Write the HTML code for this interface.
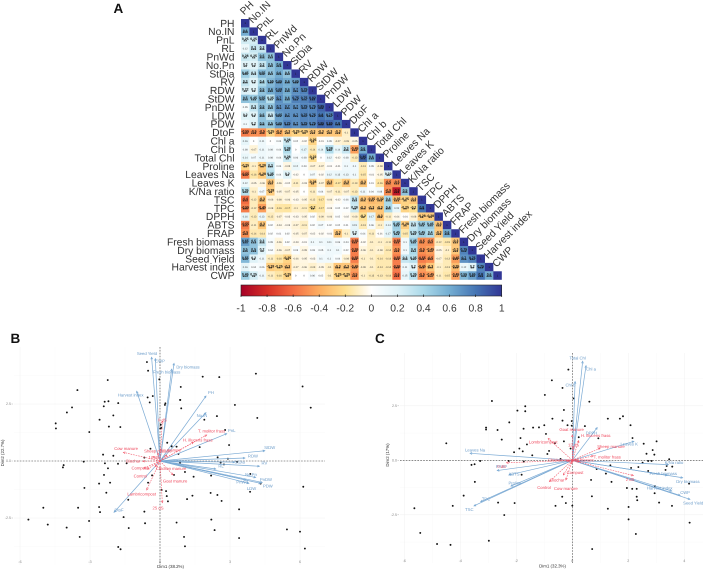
<!DOCTYPE html>
<html lang="en">
<head>
<meta charset="utf-8">
<title>Correlation heatmap and PCA biplots</title>
<style>
html,body{margin:0;padding:0;background:#fff;}
#figure{display:block;width:704px;height:569px;font-family:"Liberation Sans",sans-serif;text-rendering:geometricPrecision;}
</style>
</head>
<body>
<svg id="figure" width="704" height="569" viewBox="0 0 704 569" xmlns="http://www.w3.org/2000/svg">
  <defs>
    <linearGradient id="bar-gradient" x1="0" x2="1" y1="0" y2="0"></linearGradient>
  </defs>
  <rect x="0" y="0" width="704" height="569" fill="#fff"/>
  <text x="113.5" y="13" font-size="13.5" font-weight="bold" fill="#111">A</text>
  <text x="10.5" y="343" font-size="13.5" font-weight="bold" fill="#111">B</text>
  <text x="375" y="343" font-size="13.5" font-weight="bold" fill="#111">C</text>
  <g id="heatmap"></g>
  <g id="colorbar"></g>
  <g id="biplot-b"></g>
  <g id="biplot-c"></g>
</svg>
<script>
const variables = ["PH","No.IN","PnL","RL","PnWd","No.Pn","StDia","RV","RDW","StDW","PnDW","LDW","PDW","DtoF","Chl a","Chl b","Total Chl","Proline","Leaves Na","Leaves K","K/Na ratio","TSC","TPC","DPPH","ABTS","FRAP","Fresh biomass","Dry biomass","Seed Yield","Harvest index","CWP"];
const correlations = [
[1],
[.6,1],
[.25,.25,1],
[.12,.3,.3,1],
[.28,.25,.5,.5,1],
[.2,.2,.3,.5,.6,1],
[.45,.3,.55,.5,.6,.5,1],
[.3,.2,.4,.55,.65,.6,.65,1],
[.22,.2,.5,.6,.68,.6,.7,.75,1],
[.5,.45,.55,.35,.7,.6,.75,.75,.82,1],
[.05,.3,.5,.5,.7,.7,.7,.75,.75,.85,1],
[.2,.2,.5,.3,.65,.7,.7,.75,.75,.8,.75,1],
[.1,.2,.5,.5,.65,.75,.7,.75,.75,.85,.85,.8,1],
[-.55,-.5,-.5,-.25,-.4,-.3,-.25,-.25,-.3,-.3,-.3,-.3,-.1,1],
[.16,0,.11,0,.04,.28,.02,-.02,-.25,-.01,.05,-.07,-.09,-.05,1],
[.08,-.07,.11,.08,.04,.38,0,.17,-.14,.14,.38,.14,.3,-.45,.6,1],
[.14,.07,.11,.08,.04,.28,.06,.08,-.22,0,.12,-.02,.08,-.13,.85,.6,1],
[-.25,-.1,-.28,.3,.04,-.05,.12,.03,-.07,-.07,-.01,-.01,.1,.1,-.13,.05,-.08,1],
[-.55,-.16,-.28,.35,.04,.2,-.02,0,.07,-.02,.12,.13,.13,.1,-.15,-.01,-.05,.22,1],
[.12,-.05,-.06,-.3,-.06,-.02,-.11,-.03,-.28,-.07,-.3,-.17,-.3,-.13,-.3,.01,-.16,-.5,-.5,1],
[.35,-.1,.07,-.28,-.05,-.07,-.05,0,-.11,.04,-.07,-.11,-.07,-.13,.11,.04,.08,-.5,-.9,.5,1],
[-.6,-.12,-.3,-.06,-.08,-.06,-.03,-.05,-.12,-.17,-.06,-.02,.06,.3,-.3,-.35,-.32,.4,-.35,-.25,-.3,1],
[-.55,-.12,-.45,-.08,-.16,-.17,-.1,-.11,-.2,-.17,-.03,.02,.02,.28,-.3,-.3,-.3,.4,.15,-.25,-.2,.8,1],
[.16,-.13,.13,-.12,-.07,-.03,-.03,-.05,.02,-.09,-.06,.02,-.02,-.08,-.2,.17,-.3,-.11,-.04,-.01,-.08,-.28,-.28,1],
[-.55,-.11,-.3,.02,-.04,-.03,-.07,-.11,.02,.07,.02,.02,.01,.15,-.13,.06,-.1,.14,.45,-.28,.3,.45,.45,-.3,1],
[-.5,-.14,-.14,.02,.01,.02,-.05,-.07,-.02,-.02,-.01,-.3,-.1,.2,.04,-.11,-.01,.17,.45,-.15,.35,.45,.4,-.3,.6,1],
[.65,.5,.3,.05,-.06,.02,-.03,-.01,.1,.1,.11,.06,.04,-.55,-.02,-.1,-.1,-.11,-.55,.1,.45,-.5,-.5,-.12,-.15,-.3,1],
[.5,.5,.2,.04,-.06,-.07,.03,-.05,.03,.05,.1,.1,.02,-.55,-.06,-.1,-.08,-.14,-.5,.1,.4,-.5,-.45,-.05,-.1,-.3,.75,1],
[.55,.2,.11,-.11,-.16,-.25,-.06,-.05,-.03,.1,.1,.04,-.08,-.55,-.1,-.1,-.14,-.14,-.55,.3,.35,-.55,-.5,-.07,-.13,-.45,.7,.75,1],
[.16,.04,.06,-.28,-.25,-.3,-.07,-.06,-.09,-.05,-.1,-.3,-.3,-.45,-.09,-.1,-.14,-.14,-.55,.11,.2,-.45,-.3,-.1,-.13,-.35,.12,.2,.75,1],
[.45,.25,.11,-.11,-.16,-.25,0,0,.06,.02,-.1,-.25,-.25,-.5,-.1,-.13,-.13,-.14,-.6,.15,.35,-.5,-.45,-.11,-.15,-.45,.55,.65,.8,.6,1]
];
const colorbarTicks = [-1,-0.8,-0.6,-0.4,-0.2,0,0.2,0.4,0.6,0.8,1];
const paletteColors = ["#A50026","#D73027","#F46D43","#FDAE61","#FEE090","#FFFFFF","#E0F3F8","#ABD9E9","#74ADD1","#4575B4","#313695"];

const bPointsX = [-.56,-.51,-.03,-2.24,-3.54,-.53,-.31,-2.37,-2.21,-1.79,-.44,-2.41,-3.77,-3.99,-2,-2.59,-4.47,-4.46,-2.19,-1.7,-3.03,.03,.06,.01,.23,.21,.86,.31,.49,.71,-.41,-2.44,-2,-.67,.79,-1.43,-3.27,-2.36,-1.8,-4.13,-4.16,-2.23,-2.4,-2.61,-2.14,-.34,-.51,-3.24,-2.3,.07,.26,.29,.34,-1.36,-5,-3.51,-2.61,-2.57,-.67,-1.56,-5.64,-3.04,-4.81,-.64,.71,-1.34,-4,-3.44,-1.79,-1.69,1.83,2.54,4.11,.89,6.11,.87,.91,3.21,6.46,2.44,4.17,1.9,2.79,2.96,1.7,.5,2.47,2.91,2.6,2.74,3.3,.86,1.07,1.44,2.19,.6,3.87,4.31,6.14,3.86,2.17,2.46,1.39,1.16,2.64,3.39,2.2,2.34,5.44,6,1.03,3.39,1.07,6.21];
const bPointsY = [4.34,3.96,3.58,3.55,3.11,2.79,2.85,2.6,2.62,2.54,2.57,2.4,2.35,2.13,2,1.81,1.65,1.43,1.51,1.49,1.27,1.59,1.45,1.43,2.53,2.46,2.68,.8,.66,.63,.54,.28,.23,.15,.31,-.1,-.03,-.1,-.12,-.18,-.28,-.32,-.61,-.99,-.95,-.63,-.95,-1.18,-1.39,-1.27,-1.32,-1.54,-1.77,-1.7,-2.05,-2.05,-2.02,-2.24,-2.22,-2.46,-2.57,-2.63,-2.79,-2.73,-2.7,-2.94,-2.92,-3.33,-3.77,-3.87,3.7,3.68,3.83,3.25,3.27,2.68,2.31,2.46,2.34,1.97,1.89,1.81,1.36,.7,.61,.64,.16,.1,-.07,-.15,-.04,-.07,-.48,-.69,-.64,-.61,-.57,-.99,-1.13,-1.35,-1.4,-1.49,-1.52,-1.67,-1.75,-2.12,-2.57,-3.03,-3,-3.1,-3.33,-3.38,-3.74,-3.84];
const bTraitNames = ["Seed Yield","CWP","Fresh biomass","Dry biomass","Harvest index","PH","No.IN","PnL","StDW","RDW","RV","RL","StDia","PnWd","No.Pn","LDW","PnDW","PDW","DtoF"];
const bTraitX = [-.36,-.2,.5,.6,-1,1.97,1.97,2.86,4.49,3.64,4.26,2.39,3.2,3.69,4.1,3.81,4.38,4.31,-1.97];
const bTraitY = [4.55,4.49,4.03,4.28,3.06,2.85,2.12,1.2,.45,.13,-.23,-.35,-.05,-.83,-.72,-.98,-.94,-.98,-2.25];
const bTreatmentNames = ["Cow manure","Sheep manure","Pig manure","Biochar","10 dS","Compost","Chicken manure","Control","Goat manure","Lambricompost","25 dS","H. illucens frass","T. molitor frass","0 dS"];
const bTreatmentX = [-1.57,-.09,.29,-.74,-.3,-.69,-.21,-.54,.56,-.57,.1,1.43,2,.1];
const bTreatmentY = [.38,.35,.26,-.01,.2,-.32,-.25,-.36,-.61,-1.27,-1.83,.82,1.14,1.75];

const cPointsX = [-2.87,-1.96,-1.68,-1.68,-2.25,-3.08,-3.08,-2.67,-1.74,-1.4,-1.19,-2.52,-1.85,-4.5,-1.62,-1.89,-1.77,-2.08,-1.43,-2.27,-1.73,-3.29,-3.6,-3.49,-3.48,-1.81,-3.88,-4.27,-2.65,-2.06,-2.43,-5.64,-5.43,-4.83,-4.35,-2.98,-.14,-.73,-.35,-.98,.05,.61,-.3,-.71,-.35,-.02,1.27,1.7,1.81,2.08,-1,-.17,-.02,.45,-.94,.23,.93,2.15,-.62,-.3,-.06,-.83,-.89,-.42,2.55,3.01,2.87,2.65,2.93,2.71,2.83,2.51,2.36,3.46,3.37,3.57,3.33,2.1,2.71,1.36,.87,1.2,1.4,.67,1.95,2.14,2.3,2.95,2.94,2.3,2.32,4.17,3.1,3.56,.7,-.36,-.23,0,-.6,1.27,2.01,4.19,2.01,2.27,.71];
const cPointsY = [2.72,2.28,2.48,2.25,1.74,1.5,1.41,1.39,1.45,1.5,1.51,.95,1.02,.78,.73,.54,.41,.37,.23,-.03,-.06,-.03,-.21,-.18,-.99,-.66,-1.62,-2.09,-1.94,-1.96,-2.51,-2.2,-3.33,-3.84,-3.88,-3.69,4.16,3.67,3.32,3,2.84,2.69,2.31,1.91,1.82,1.8,1.91,1.91,2.02,1.61,1.61,1.61,1.59,1.57,1.21,1.06,1.01,1.02,.78,.87,.54,.43,.29,.06,.76,.87,.47,.3,.26,-.03,-.03,-.11,-.31,.05,-.26,-.29,-.44,-.35,-.49,-.23,-.4,-.61,-.99,-.9,-1.27,-1.31,-1.31,-1.18,-1.51,-1.67,-1.83,-1.07,-1.94,-2.09,-1.65,-1.67,-1.96,-2.08,-2.09,-2.22,-2.14,-2.86,-2.71,-3.38,-4.07];
const cTraitNames = ["Total Chl","Chl a","Chl b","DPPH","Leaves K","K/Na ratio","Fresh biomass","Dry biomass","Harvest index","CWP","Seed Yield","Leaves Na","FRAP","ABTS","Proline","TPC","TSC"];
const cTraitX = [.37,.49,.1,.89,2.2,3.43,3.39,3.94,3.55,3.85,4.2,-3.65,-2.68,-2.26,-2.19,-3.27,-3.51];
const cTraitY = [4.54,4.34,3.61,1.5,.87,-.2,-.69,-.8,-1.41,-1.61,-1.79,.32,-.47,-.67,-1.18,-1.9,-2.09];
const cTreatmentNames = ["Goat manure","H. illucens frass","Sheep manure","T. molitor frass","12 dS","Lombricompost","Compost","Biochar","Control","Cow manure","2 dS","0 dS","Pig manure","Chicken manure"];
const cTreatmentX = [0,.23,.99,.75,.04,-.86,-.02,-.32,-.82,-.23,2.18,-2.35,.27,-.2];
const cTreatmentY = [1.16,.9,.55,.2,.63,1,-.14,-.67,-.98,-.9,-.7,-.11,-.06,-.03];

/* label placement relative to each arrow tip (layout only, not data) */
const bTraitLabelNudge = [[-4.7,-3.7],[4.7,2.7],[-5,3],[14,3.7],[-6,3.7],[5,-3.3],[-4,3],[5,-3],[5,-3],[8,-2],[5,-3],[5.3,-3],[5,0],[-4,2],[-4.7,-2.7],[2.7,5.3],[3.7,-3],[7.3,2.7],[5,-2.3]];
const bTreatmentLabelNudge = [[2.7,-3.7],[0,-2],[3.5,-5],[-9.5,0],[1,1],[-4,0],[16,2],[-7,6.7],[2,6],[-5,4.3],[-4.3,5.3],[4.4,-2.3],[5,-4],[0,-1]];
const cTraitLabelNudge = [[-5,-3.3],[5,3.3],[-4.7,3.3],[-5.7,5.7],[-4.7,3],[5.7,-2.3],[-4,-1.7],[5.3,3.7],[-12,-2.7],[5,-2.7],[3.3,4],[5,-3.3],[4.3,-4],[5,-.7],[4,-2.7],[5.3,-2.7],[-4.7,3.7]];
const cTreatmentLabelNudge = [[-.7,-5.3],[17,-5],[11,-1.7],[14,1],[0,-1.7],[-5,3.4],[3.3,9],[-6,5.3],[-5.3,6],[0,8.7],[-3.3,4],[-5,4],[3.3,-1.7],[-3.3,-.7]];

const NS = "http://www.w3.org/2000/svg";
function mk(parent, tag, attrs, txt){
  const el = document.createElementNS(NS, tag);
  for (const k in attrs) el.setAttribute(k, attrs[k]);
  if (txt !== undefined) el.textContent = txt;
  parent.appendChild(el);
  return el;
}
function hexToRgb(h){return [parseInt(h.slice(1,3),16),parseInt(h.slice(3,5),16),parseInt(h.slice(5,7),16)];}
function colorFor(v){
  const c = Math.max(-1,Math.min(1,v));
  const p = (c+1)/2*(paletteColors.length-1);
  const i = Math.min(Math.floor(p),paletteColors.length-2);
  const t = p-i;
  const a = hexToRgb(paletteColors[i]);
  const b = hexToRgb(paletteColors[i+1]);
  return "rgb("+[0,1,2].map(function(k){return Math.round(a[k]+(b[k]-a[k])*t);}).join(",")+")";
}

/* ---------- heatmap ---------- */
const hmLeft = 241, hmTop = 19, hmSize = 260.7/variables.length;
const hmX = function(i){return hmLeft+i*hmSize;};
const hmY = function(i){return hmTop+i*hmSize;};
const heatmap = document.getElementById("heatmap");

correlations.forEach(function(row,r){
  row.forEach(function(v,c){
    const cell = mk(heatmap,"rect",{x:hmX(c).toFixed(2),y:hmY(r).toFixed(2),width:(hmSize+.1).toFixed(2),height:(hmSize+.1).toFixed(2),fill:colorFor(v)});
    
    
    const cx = hmX(c)+hmSize/2, cy = hmY(r)+hmSize/2;
    const label = v===1 ? "1" : String(Math.round(v*100)/100);
    if (v===1){
      const t = mk(heatmap,"text",{x:cx,y:cy+.9,"font-size":2.6,"text-anchor":"middle",fill:"#111"},label);
      
      
    } else if (Math.abs(v)>=.2){
      const t1 = mk(heatmap,"text",{x:cx,y:cy+.2,"font-size":3.4,"font-weight":"bold","text-anchor":"middle",fill:"#111"},label);
      
      
      const t2 = mk(heatmap,"text",{x:cx,y:cy+3,"font-size":4.6,"font-weight":"bold","text-anchor":"middle",fill:"#111"},Math.abs(v)>=.3?"***":"**");
      
      
    } else {
      const t = mk(heatmap,"text",{x:cx,y:cy+.9,"font-size":2.5,"text-anchor":"middle",fill:"#333"},label);
      
      
    }
  });
});
variables.forEach(function(name,i){
  const rowLabel = mk(heatmap,"text",{x:234.5,y:(hmY(i)+hmSize/2+3.6).toFixed(2),"font-size":10.3,"text-anchor":"end",fill:"#333"},name);
  
  
  const px = hmX(i)+3.2, py = hmY(i)-3.6;
  const colLabel = mk(heatmap,"text",{x:px.toFixed(2),y:py.toFixed(2),"font-size":10.3,fill:"#333",transform:"rotate(-45 "+px.toFixed(2)+" "+py.toFixed(2)+")"},name);
  
  
});

/* ---------- colorbar ---------- */
const grad = document.getElementById("bar-gradient");
paletteColors.forEach(function(col,i){
  mk(grad,"stop",{offset:(i/(paletteColors.length-1)),"stop-color":col});
});
const colorbar = document.getElementById("colorbar");
const barLeft = 241, barWidth = 260.7, barTop = 285, barHeight = 11;
const barX = function(v){return barLeft+(v+1)/2*barWidth;};
const barRect = mk(colorbar,"rect",{x:barLeft,y:barTop,width:barWidth,height:barHeight,fill:"url(#bar-gradient)",stroke:"#222","stroke-width":.6});


colorbarTicks.forEach(function(v){
  const tick = mk(colorbar,"line",{x1:barX(v),x2:barX(v),y1:barTop+barHeight-1.5,y2:barTop+barHeight+1,stroke:"#222","stroke-width":.7});
  
  
  const lab = mk(colorbar,"text",{x:barX(v),y:311.5,"font-size":10.3,"text-anchor":"middle",fill:"#333"},String(v));
  
  
});

/* ---------- biplots ---------- */
function drawArrow(g,x1,y1,x2,y2,color,width,dash){
  const attrs = {x1:x1,y1:y1,x2:x2,y2:y2,stroke:color,"stroke-width":width};
  if (dash) attrs["stroke-dasharray"] = dash;
  const shaft = mk(g,"line",attrs);
  
  
  const a = Math.atan2(y2-y1,x2-x1), L = 2.2, S = .45;
  const d = "M"+(x2-L*Math.cos(a-S)).toFixed(2)+" "+(y2-L*Math.sin(a-S)).toFixed(2)+"L"+x2.toFixed(2)+" "+y2.toFixed(2)+"L"+(x2-L*Math.cos(a+S)).toFixed(2)+" "+(y2-L*Math.sin(a+S)).toFixed(2);
  const head = mk(g,"path",{d:d,fill:"none",stroke:color,"stroke-width":width});
  
  
}
function drawBiplot(cfg){
  const g = document.getElementById(cfg.id);
  const sx = cfg.sx, sy = cfg.sy;
  cfg.xMinor.forEach(function(v){
    const l = mk(g,"line",{x1:sx(v),x2:sx(v),y1:cfg.top,y2:cfg.bottom,stroke:"#f7f7f7","stroke-width":.4});
    
    
  });
  cfg.yMinor.forEach(function(v){
    const l = mk(g,"line",{x1:cfg.left,x2:cfg.right,y1:sy(v),y2:sy(v),stroke:"#f7f7f7","stroke-width":.4});
    
    
  });
  cfg.xMajor.forEach(function(v){
    const l = mk(g,"line",{x1:sx(v),x2:sx(v),y1:cfg.top,y2:cfg.bottom,stroke:"#f0f0f0","stroke-width":.5});
    
    
    const t = mk(g,"text",{x:sx(v),y:cfg.xTickY,"font-size":3.6,"text-anchor":"middle",fill:"#888"},String(v));
    
    
  });
  cfg.yMajor.forEach(function(v){
    const l = mk(g,"line",{x1:cfg.left,x2:cfg.right,y1:sy(v),y2:sy(v),stroke:"#f0f0f0","stroke-width":.5});
    
    
    const t = mk(g,"text",{x:cfg.yTickX,y:sy(v)+1.2,"font-size":3.6,"text-anchor":"end",fill:"#888"},v.toFixed(1));
    
    
    const m = mk(g,"line",{x1:cfg.yTickX+.5,x2:cfg.yTickX+2,y1:sy(v),y2:sy(v),stroke:"#999","stroke-width":.4});
    
    
  });
  const hz = mk(g,"line",{x1:cfg.left,x2:cfg.right,y1:sy(0),y2:sy(0),stroke:"#444","stroke-width":.6,"stroke-dasharray":"1.6 1.3"});
  
  
  const vt = mk(g,"line",{x1:sx(0),x2:sx(0),y1:cfg.top,y2:cfg.bottom,stroke:"#444","stroke-width":.6,"stroke-dasharray":"1.6 1.3"});
  
  
  cfg.px.forEach(function(v,i){
    const p = mk(g,"circle",{cx:sx(v).toFixed(2),cy:sy(cfg.py[i]).toFixed(2),r:.95,fill:"#111"});
    
    
  });
  cfg.traitNames.forEach(function(n,i){
    drawArrow(g,sx(0),sy(0),sx(cfg.traitX[i]),sy(cfg.traitY[i]),"#7baad4",.7,null);
  });
  cfg.treatNames.forEach(function(n,i){
    drawArrow(g,sx(0),sy(0),sx(cfg.treatX[i]),sy(cfg.treatY[i]),"#f2596b",.6,"1.6 1");
  });
  cfg.traitNames.forEach(function(n,i){
    const o = cfg.traitNudge[i];
    const t = mk(g,"text",{x:(sx(cfg.traitX[i])+o[0]).toFixed(2),y:(sy(cfg.traitY[i])+o[1]+1.4).toFixed(2),"font-size":4.2,"text-anchor":"middle",fill:"#6a9bc9"},n);
    
    
  });
  cfg.treatNames.forEach(function(n,i){
    const o = cfg.treatNudge[i];
    const t = mk(g,"text",{x:(sx(cfg.treatX[i])+o[0]).toFixed(2),y:(sy(cfg.treatY[i])+o[1]+1.4).toFixed(2),"font-size":4.2,"text-anchor":"middle",fill:"#ef4a5e"},n);
    
    
  });
  const xt = mk(g,"text",{x:cfg.xTitleX,y:cfg.xTitleY,"font-size":4.4,"text-anchor":"middle",fill:"#333"},cfg.xTitle);
  
  
  const yt = mk(g,"text",{x:cfg.yTitleX,y:cfg.yTitleY,"font-size":4.4,"text-anchor":"middle",fill:"#333",transform:"rotate(-90 "+cfg.yTitleX+" "+cfg.yTitleY+")"},cfg.yTitle);
  
  
}
drawBiplot({
  id:"biplot-b",
  sx:function(v){return 160+v*70/3;},
  sy:function(v){return 461-v*22.8;},
  left:14,right:325,top:347,bottom:565,
  xMajor:[-6,-3,0,3,6],xMinor:[-4.5,-1.5,1.5,4.5],
  yMajor:[-2.5,0,2.5],yMinor:[-3.75,-1.25,1.25,3.75],
  xTickY:563,yTickX:11,
  px:bPointsX,py:bPointsY,
  traitNames:bTraitNames,traitX:bTraitX,traitY:bTraitY,traitNudge:bTraitLabelNudge,
  treatNames:bTreatmentNames,treatX:bTreatmentX,treatY:bTreatmentY,treatNudge:bTreatmentLabelNudge,
  xTitle:"Dim1 (38.2%)",xTitleX:170.5,xTitleY:568,
  yTitle:"Dim2 (22.7%)",yTitleX:4,yTitleY:453
});
drawBiplot({
  id:"biplot-c",
  sx:function(v){return 572.3+v*28;},
  sy:function(v){return 460.3-v*21.8;},
  left:400,right:703,top:353,bottom:563,
  xMajor:[-6,-4,-2,0,2,4],xMinor:[-5,-3,-1,1,3],
  yMajor:[-2.5,0,2.5],yMinor:[-3.75,-1.25,1.25,3.75],
  xTickY:562,yTickX:397,
  px:cPointsX,py:cPointsY,
  traitNames:cTraitNames,traitX:cTraitX,traitY:cTraitY,traitNudge:cTraitLabelNudge,
  treatNames:cTreatmentNames,treatX:cTreatmentX,treatY:cTreatmentY,treatNudge:cTreatmentLabelNudge,
  xTitle:"Dim1 (32.3%)",xTitleX:552.5,xTitleY:567.5,
  yTitle:"Dim2 (17%)",yTitleX:389,yTitleY:455
});
</script>
</body>
</html>
